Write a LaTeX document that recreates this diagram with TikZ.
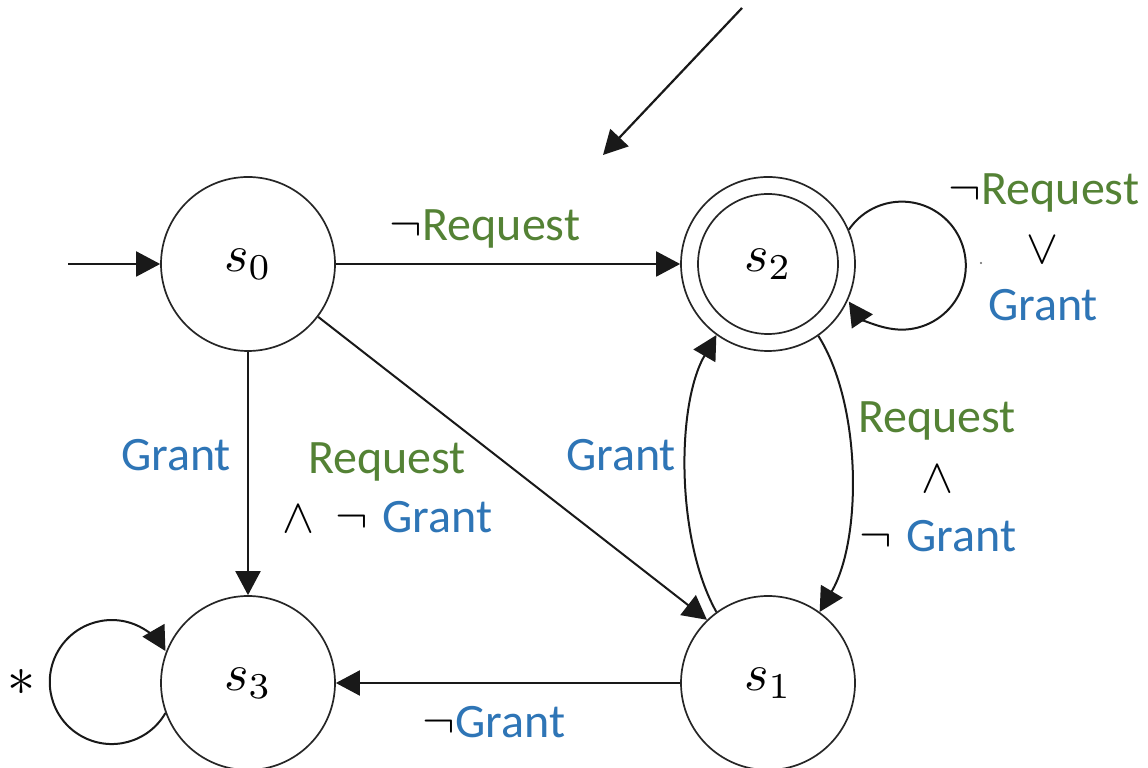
\documentclass[tikz,border=0pt]{standalone}
\usepackage{fontspec}
\setmainfont{Carlito}
\usetikzlibrary{arrows.meta}
\definecolor{reqgreen}{HTML}{548235}
\definecolor{grantblue}{HTML}{2E75B6}
\newcommand{\Req}{\textcolor{reqgreen}{Request}}
\newcommand{\Gr}{\textcolor{grantblue}{Grant}}
\newcommand{\bigmath}[1]{\scalebox{5.2}{$#1$}}
\newcommand{\bigop}[1]{\scalebox{4.8}{$#1$}}
\newcommand{\nt}{{\fontsize{10}{12}\selectfont\scalebox{4.9}{$\neg$}}}
\begin{document}
\begin{tikzpicture}[x=1pt,y=1pt,
  state/.style={circle,draw=black!85,line width=1.7pt,minimum size=174pt,inner sep=0pt},
  inring/.style={circle,draw=black!85,line width=1.7pt,minimum size=140pt,inner sep=0pt},
  arr/.style={draw=black!90,line width=2pt,-{Triangle[length=24pt,width=25pt]}},
  lbl/.style={inner sep=0pt,font=\fontsize{48}{52}\selectfont},
  op/.style={inner sep=0pt}]
\useasboundingbox (0,0) rectangle (1148,768);
\fill[white] (0,0) rectangle (1148,768);
% states
\node[state] (s0) at (248,504) {\bigmath{s_0}};
\node[state] (s2) at (768,504) {\bigmath{s_2}};
\node[inring] (s2in) at (s2) {};
\node[state] (s3) at (248,85) {\bigmath{s_3}};
\node[state] (s1) at (768,85) {\bigmath{s_1}};
\coordinate (init) at (68,504);
\coordinate (notestart) at (742,760);
\coordinate (noteend) at (603,613);
% edges
\draw[arr] (init) -- (s0);
\draw[arr] (s0) -- (s2);
\draw[arr] (s0) -- (s3);
\draw[arr] (s0.-37) -- (s1.134);
\draw[arr] (s1) -- (s3);
\draw[arr] (s1.126) .. controls (676,228) and (676,363) .. (s2.234);
\draw[arr] (s2.-55) .. controls (862,363) and (862,228) .. (s1.54);
\draw[arr] (s2.23.6) arc[start angle=145.8,end angle=-145.8,radius=64];
\draw[arr] (s3.200.9) arc[start angle=-30,end angle=-330,radius=62];
\draw[arr,line width=2.2pt] (notestart) -- (noteend);
% labels
\node[lbl] (l01) at (485,539) {\nt\Req};
\node[lbl] (l03) at (176,313) {\Gr};
\node[lbl] (l01a) at (387,306) {\Req};
\node[op] (l01b) at (298,249) {\bigop{\wedge}};
\node[lbl] (l01c) at (414,251) {\nt\hspace{0.3em}\Gr};
\node[lbl] (l12) at (621,313) {\Gr};
\node[lbl] (l21a) at (937,347) {\Req};
\node[op] (l21b) at (937,289) {\bigop{\wedge}};
\node[lbl] (l21c) at (938,232) {\nt\hspace{0.3em}\Gr};
\node[lbl] (l22a) at (1044,575) {\nt\Req};
\node[op] (l22b) at (1042,518) {\bigop{\vee}};
\node[lbl] (l22c) at (1043,463) {\Gr};
\node[lbl] (l13) at (494,46) {\nt\Gr};
\node[op] (l33) at (22,86) {\scalebox{5.6}{$\ast$}};
\fill[black!60] (981,505) circle (1.2pt);
\end{tikzpicture}
\end{document}
